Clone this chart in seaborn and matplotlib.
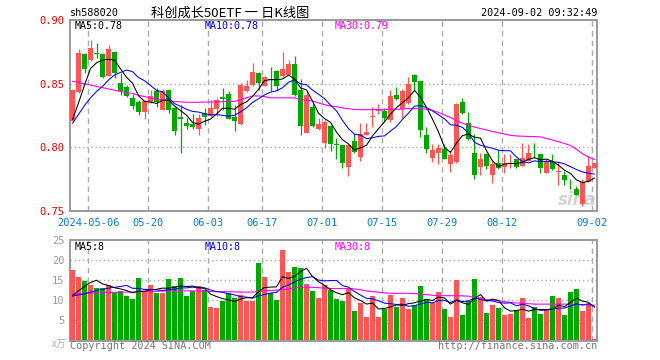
import numpy as np
import pandas as pd
import matplotlib
matplotlib.use("Agg")
import matplotlib.pyplot as plt
import seaborn as sns

# ---------------- data ----------------
dates = ["2024-05-06", "05-20", "06-03", "06-17", "07-01", "07-15", "07-29", "08-12", "09-02"]
date_idx = [3, 13, 23, 32, 42, 52, 62, 72, 87]

opens = [0.8206, 0.8438, 0.8737, 0.8685, 0.8742, 0.8734, 0.8565, 0.8750, 0.8510, 0.8474,
         0.8385, 0.8354, 0.8281, 0.8354, 0.8443, 0.8297, 0.8448, 0.8307, 0.8242, 0.8195,
         0.8185, 0.8141, 0.8271, 0.8245, 0.8302, 0.8393, 0.8422, 0.8242, 0.8187, 0.8440,
         0.8487, 0.8583, 0.8484, 0.8539, 0.8604, 0.8560, 0.8573, 0.8659, 0.8448, 0.8115,
         0.8318, 0.8141, 0.8036, 0.8167, 0.8026, 0.8016, 0.7846, 0.8047, 0.7927, 0.8096,
         0.8240, 0.8290, 0.8284, 0.8219, 0.8414, 0.8302, 0.8349, 0.8570, 0.8523, 0.8094,
         0.7917, 0.7958, 0.7984, 0.7867, 0.7885, 0.8354, 0.8193, 0.7958, 0.7849, 0.7945,
         0.7781, 0.7880, 0.7849, 0.7924, 0.7906, 0.7854, 0.7893, 0.7948, 0.7945, 0.7797,
         0.7885, 0.7807, 0.7784, 0.7716, 0.7672, 0.7555, 0.7729, 0.7841]
highs = [0.8452, 0.8776, 0.8740, 0.8844, 0.8818, 0.8740, 0.8802, 0.8755, 0.8583, 0.8492,
         0.8422, 0.8375, 0.8375, 0.8448, 0.8469, 0.8458, 0.8458, 0.8320, 0.8336, 0.8232,
         0.8263, 0.8263, 0.8310, 0.8375, 0.8388, 0.8466, 0.8445, 0.8336, 0.8505, 0.8531,
         0.8661, 0.8596, 0.8563, 0.8630, 0.8610, 0.8750, 0.8684, 0.8716, 0.8540, 0.8442,
         0.8350, 0.8232, 0.8219, 0.8180, 0.8076, 0.8020, 0.8021, 0.8109, 0.8190, 0.8193,
         0.8318, 0.8340, 0.8310, 0.8448, 0.8479, 0.8458, 0.8557, 0.8575, 0.8525, 0.8161,
         0.8023, 0.8023, 0.8023, 0.7971, 0.8349, 0.8388, 0.8276, 0.8102, 0.7958, 0.7958,
         0.7893, 0.7979, 0.7945, 0.7945, 0.7910, 0.8036, 0.8023, 0.8031, 0.7950, 0.7911,
         0.7945, 0.7885, 0.7815, 0.7750, 0.7698, 0.7750, 0.7932, 0.7880]
lows = [0.8200, 0.8430, 0.8589, 0.8680, 0.8706, 0.8542, 0.8560, 0.8544, 0.8414, 0.8396,
        0.8302, 0.8258, 0.8227, 0.8350, 0.8318, 0.8292, 0.8271, 0.8094, 0.7958, 0.8141,
        0.8141, 0.8094, 0.8180, 0.8240, 0.8245, 0.8297, 0.8220, 0.8128, 0.8180, 0.8436,
        0.8485, 0.8453, 0.8480, 0.8440, 0.8440, 0.8550, 0.8570, 0.8406, 0.8094, 0.8110,
        0.8160, 0.8136, 0.7997, 0.7971, 0.7911, 0.7841, 0.7776, 0.7960, 0.7893, 0.8096,
        0.8161, 0.8260, 0.8200, 0.8200, 0.8375, 0.8232, 0.8345, 0.8453, 0.8083, 0.7958,
        0.7885, 0.7867, 0.7905, 0.7807, 0.7880, 0.8260, 0.8060, 0.7755, 0.7781, 0.7828,
        0.7719, 0.7830, 0.7802, 0.7841, 0.7841, 0.7850, 0.7890, 0.7919, 0.7802, 0.7795,
        0.7825, 0.7706, 0.7706, 0.7672, 0.7625, 0.7536, 0.7725, 0.7838]
closes = [0.8448, 0.8745, 0.8615, 0.8781, 0.8737, 0.8557, 0.8773, 0.8583, 0.8440, 0.8406,
          0.8323, 0.8281, 0.8365, 0.8406, 0.8354, 0.8443, 0.8297, 0.8128, 0.8227, 0.8172,
          0.8159, 0.8229, 0.8242, 0.8310, 0.8375, 0.8383, 0.8227, 0.8206, 0.8492, 0.8484,
          0.8591, 0.8510, 0.8552, 0.8528, 0.8480, 0.8620, 0.8659, 0.8411, 0.8167, 0.8409,
          0.8172, 0.8188, 0.8198, 0.8023, 0.8021, 0.7875, 0.8018, 0.7964, 0.8102, 0.8125,
          0.8245, 0.8302, 0.8229, 0.8406, 0.8383, 0.8440, 0.8497, 0.8518, 0.8135, 0.7984,
          0.7977, 0.7997, 0.7911, 0.7938, 0.8344, 0.8271, 0.8063, 0.7781, 0.7906, 0.7854,
          0.7867, 0.7841, 0.7880, 0.7927, 0.7849, 0.7919, 0.7958, 0.7945, 0.7836, 0.7885,
          0.7828, 0.7810, 0.7745, 0.7711, 0.7628, 0.7729, 0.7854, 0.7875]
volumes = [17.5, 15.75, 14.75, 13.75, 13.0, 13.0, 13.75, 12.0, 12.25, 11.0,
           10.25, 15.5, 12.25, 13.75, 11.75, 11.75, 15.25, 13.5, 15.5, 11.0,
           12.25, 13.5, 12.5, 8.25, 8.0, 9.75, 11.75, 10.5, 11.25, 9.75,
           9.75, 19.25, 15.75, 11.75, 10.0, 22.5, 17.0, 18.25, 18.0, 14.0,
           12.25, 10.5, 13.75, 12.5, 10.25, 9.75, 13.1, 7.25, 9.25, 5.75,
           11.0, 5.75, 7.75, 11.25, 8.25, 10.6, 7.75, 8.75, 13.5, 10.25,
           9.25, 12.0, 7.75, 5.75, 15.0, 6.25, 9.75, 15.25, 10.75, 6.75,
           8.75, 8.0, 6.25, 6.5, 7.5, 10.5, 5.5, 8.25, 6.5, 7.5,
           11.0, 10.5, 6.25, 12.0, 12.75, 7.25, 9.0, 0.25]

# moving averages: first values (before a full window exists)
ma5_head = [0.822, 0.835, 0.849, 0.862]
ma10_head = [0.819, 0.826, 0.833, 0.839, 0.844, 0.848, 0.853, 0.857, 0.859]
ma30 = [0.852, 0.851, 0.850, 0.849, 0.848, 0.847, 0.846, 0.845, 0.844, 0.843,
        0.8425, 0.841, 0.840, 0.839, 0.838, 0.8375, 0.837, 0.836, 0.8358, 0.8355,
        0.8355, 0.8355, 0.8357, 0.8357, 0.8358, 0.836, 0.836, 0.8362, 0.8375, 0.839,
        0.8405, 0.8405, 0.840, 0.839, 0.839, 0.839, 0.839, 0.839, 0.8375, 0.8372,
        0.8365, 0.835, 0.8336, 0.8325, 0.832, 0.831, 0.8305, 0.8298, 0.8297, 0.8297,
        0.8297, 0.8297, 0.8297, 0.830, 0.830, 0.8302, 0.8305, 0.8305, 0.8305, 0.830,
        0.829, 0.8275, 0.8255, 0.8235, 0.821, 0.819, 0.8172, 0.816, 0.8148, 0.8138,
        0.8125, 0.8115, 0.8105, 0.8095, 0.809, 0.8088, 0.8086, 0.8085, 0.8083, 0.807,
        0.8058, 0.8045, 0.803, 0.8016, 0.7985, 0.795, 0.7925, 0.7905]
vol_ma5_head = [11.2, 12.3, 13.4, 14.4]
vol_ma10_head = [11.0, 11.3, 11.6, 12.0, 12.4, 12.7, 13.0, 13.2, 13.4]
vol_ma30 = [11.4, 11.5, 11.6, 11.7, 11.8, 11.85, 11.9, 11.95, 12.0, 12.0,
            12.0, 12.05, 12.1, 12.15, 12.2, 12.25, 12.3, 12.3, 12.3, 12.3,
            12.3, 12.25, 12.2, 12.15, 12.1, 12.1, 12.1, 12.05, 12.0, 12.0,
            12.0, 12.15, 12.3, 12.4, 12.5, 12.65, 12.8, 13.0, 13.2, 13.2,
            13.2, 13.1, 13.0, 12.9, 12.9, 12.9, 12.9, 12.8, 12.6, 12.3,
            12.1, 12.0, 11.8, 11.7, 11.7, 11.7, 11.7, 11.6, 11.5, 11.4,
            11.2, 11.1, 11.1, 11.1, 11.1, 11.05, 11.0, 10.6, 10.3, 10.1,
            10.0, 9.9, 9.6, 9.4, 9.3, 9.2, 9.1, 9.0, 9.0, 9.0,
            9.0, 9.0, 9.0, 9.0, 8.95, 8.9, 8.8, 8.75]

# ---------------- derived ----------------
n = len(closes)
idx = np.arange(n)
df = pd.DataFrame({"i": idx, "open": opens, "high": highs, "low": lows,
                   "close": closes, "vol": volumes, "ma30": ma30, "vma30": vol_ma30})
ma5 = df["close"].rolling(5).mean().to_numpy()
ma5[:4] = ma5_head
ma10 = df["close"].rolling(10).mean().to_numpy()
ma10[:9] = ma10_head
vma5 = df["vol"].rolling(5).mean().to_numpy()
vma5[:4] = vol_ma5_head
vma10 = df["vol"].rolling(10).mean().to_numpy()
vma10[:9] = vol_ma10_head
df["ma5"], df["ma10"], df["vma5"], df["vma10"] = ma5, ma10, vma5, vma10

RED = "#ff5555"
GREEN = "#00a800"
GRID = "#aaaaaa"
BORDER = "#999999"
up = df["close"] >= df["open"]
colors = np.where(up, RED, GREEN)

sns.set_theme(style="white")
plt.rcParams["font.family"] = ["DejaVu Sans Mono", "Noto Sans CJK SC"]

W, H = 660, 360
fig = plt.figure(figsize=(6.6, 3.6), dpi=100)
fig.patch.set_facecolor("white")

def fx(px):
    return px / W

def fy(py):
    return 1 - py / H

ax1 = fig.add_axes([fx(70), fy(211), fx(527), 191 / H])
ax2 = fig.add_axes([fx(70), fy(341), fx(527), 101 / H])

xlim = (-0.42, n - 1 + 0.42)
grid_x = [d - 0.37 for d in date_idx]

for ax in (ax1, ax2):
    ax.set_facecolor("white")
    ax.set_xlim(*xlim)
    for s in ax.spines.values():
        s.set_color(BORDER)
        s.set_linewidth(1.4)
    for gx in grid_x:
        ax.axvline(gx, color=GRID, lw=1.0, ls=(0, (4, 3)), zorder=0)
    ax.tick_params(length=0)
    ax.set_xticks([])

# ---------------- price panel ----------------
ax1.set_ylim(0.751, 0.9002)
for gy in [0.80, 0.85]:
    ax1.axhline(gy, color=GRID, lw=1.0, ls=(0, (1, 2)), zorder=0)
bw = 0.83
min_h = 0.0004
ax1.vlines(df["i"], df["low"], df["high"], colors=colors, lw=0.9, zorder=2)
body_bottom = np.minimum(df["open"], df["close"])
body_h = np.maximum(np.abs(df["close"] - df["open"]), min_h)
ax1.bar(df["i"], body_h, bottom=body_bottom, width=bw, color=colors, lw=0, zorder=3)

sns.lineplot(data=df, x="i", y="ma30", ax=ax1, color="#ff00ff", lw=0.8, zorder=4, legend=False)
sns.lineplot(data=df, x="i", y="ma10", ax=ax1, color="#0000ff", lw=0.75, zorder=5, legend=False)
sns.lineplot(data=df, x="i", y="ma5", ax=ax1, color="black", lw=0.75, zorder=6, legend=False)
ax1.set_xlabel("")
ax1.set_ylabel("")
ax1.set_yticks([0.75, 0.80, 0.85, 0.90])
ax1.set_yticklabels(["0.75", "0.80", "0.85", "0.90"], color="#ee0000", fontsize=7.5)
ax1.tick_params(axis="y", pad=4)

ax1.text(fx(75), fy(26), f"MA5:{ma5[-1]:.2f}", transform=fig.transFigure, fontsize=7.2,
         color="black", va="center", ha="left")
ax1.text(fx(205), fy(26), f"MA10:{ma10[-1]:.2f}", transform=fig.transFigure, fontsize=7.2,
         color="#0000ff", va="center", ha="left")
ax1.text(fx(335), fy(26), f"MA30:{ma30[-1]:.2f}", transform=fig.transFigure, fontsize=7.2,
         color="#ff00ff", va="center", ha="left")
ax1.text(fx(597), fy(200), "sina", transform=fig.transFigure, fontsize=12, color="#c8c8c8",
         style="italic", weight="bold", ha="right", va="center", family="DejaVu Sans",
         alpha=0.8, zorder=1)

for d, lab in zip(grid_x, dates):
    ax1.text(d, -0.035, lab, transform=ax1.get_xaxis_transform(), ha="center", va="top",
             fontsize=7.5, color="#0a7ad2")

# ---------------- volume panel ----------------
ax2.set_ylim(-0.2, 25)
for gy in [5, 10, 15, 20]:
    ax2.axhline(gy, color=GRID, lw=1.0, ls=(0, (1, 2)), zorder=0)
ax2.bar(df["i"], df["vol"], width=bw, color=colors, lw=0, zorder=3)
sns.lineplot(data=df, x="i", y="vma30", ax=ax2, color="#ff00ff", lw=0.8, zorder=4, legend=False)
sns.lineplot(data=df, x="i", y="vma10", ax=ax2, color="#0000ff", lw=0.75, zorder=5, legend=False)
sns.lineplot(data=df, x="i", y="vma5", ax=ax2, color="black", lw=0.75, zorder=6, legend=False)
ax2.set_xlabel("")
ax2.set_ylabel("")
ax2.set_yticks([5, 10, 15, 20, 25])
ax2.set_yticklabels(["5", "10", "15", "20", "25"], color="#999999", fontsize=7.5)
ax2.tick_params(axis="y", pad=4)

ax2.text(fx(75), fy(247), f"MA5:{int(vma5[-1])}", transform=fig.transFigure, fontsize=7.2,
         color="black", va="center", ha="left")
ax2.text(fx(205), fy(247), f"MA10:{int(vma10[-1])}", transform=fig.transFigure, fontsize=7.2,
         color="#0000ff", va="center", ha="left")
ax2.text(fx(335), fy(247), f"MA30:{int(vol_ma30[-1])}", transform=fig.transFigure, fontsize=7.2,
         color="#ff00ff", va="center", ha="left")

# ---------------- header / footer text ----------------
fig.text(fx(70), fy(13), "sh588020", fontsize=7.3, color="black", ha="left", va="center")
fig.text(fx(230), fy(13), "科创成长50ETF 一 日K线图", fontsize=9.5, color="black",
         ha="center", va="center", family=["Noto Sans CJK SC", "DejaVu Sans"])
fig.text(fx(597), fy(13), "2024-09-02 09:32:49", fontsize=7.3, color="black",
         ha="right", va="center")
fig.text(fx(66), fy(344), "x万", fontsize=7, color="#b0b0b0", ha="right", va="center",
         family=["Noto Sans CJK SC", "DejaVu Sans"])
fig.text(fx(70), fy(346), "Copyright 2024 SINA.COM", fontsize=7.3, color="#777777",
         ha="left", va="center")
fig.text(fx(597), fy(346), "http://finance.sina.com.cn", fontsize=7.3, color="#777777",
         ha="right", va="center")

fig.savefig("out.png", dpi=100, facecolor="white")
